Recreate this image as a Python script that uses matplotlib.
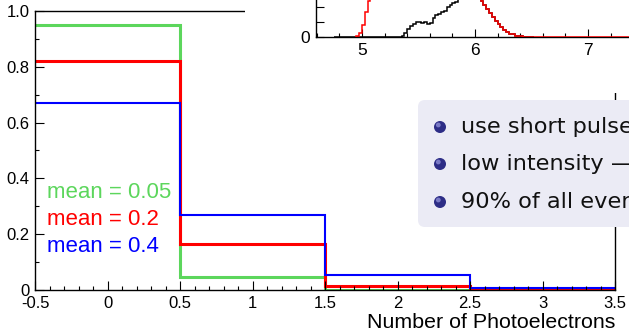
import numpy as np
import matplotlib
matplotlib.use("Agg")
import matplotlib.pyplot as plt
from matplotlib.patches import Rectangle, FancyBboxPatch, Circle
from matplotlib.ticker import MultipleLocator, FuncFormatter

plt.rcParams['font.family'] = ['Liberation Sans', 'DejaVu Sans']

# main plot: Poisson probabilities for 0..3 photoelectrons
edges = [-0.5, 0.5, 1.5, 2.5, 3.5]
p_005 = [0.951, 0.048, 0.0012, 0.00002]
p_02 = [0.819, 0.164, 0.016, 0.001]
p_04 = [0.670, 0.268, 0.054, 0.007]
labels = ["mean = 0.05", "mean = 0.2", "mean = 0.4"]
colors = ["#5cd65c", "#ff0000", "#0000ff"]

# inset histograms (bin width 0.025)
bw = 0.025
red_start = 4.95
red_counts = [7, 27, 80, 167, 240, 400,
              480, 520, 560, 590, 610, 620, 630, 640, 650, 655,
              660, 660, 665, 660, 655, 650, 640, 630, 620, 610,
              600, 590, 580, 565, 550, 535, 520, 500, 480, 460,
              440, 420, 400, 380, 350, 320, 290, 300,
              240, 213, 187, 160, 133, 107, 87, 67, 47, 33, 23, 17, 10, 7, 4, 3, 2, 1, 1,
              0, 0, 0, 0, 0, 0, 0, 0, 0, 0, 0, 0, 0, 0, 0, 0, 0, 0, 0, 0,
              0, 0, 0, 0, 0, 0, 0, 0, 0, 0, 0, 0, 0, 0, 0, 0, 0, 0, 0, 0]
black_start = 4.75
black_counts = [0, 0, 0, 0, 0, 0, 0, 0, 0, 0, 0, 0, 0, 0, 0, 0, 0, 0, 0, 0, 0, 0, 0, 0,
                7, 27, 53, 73, 87, 100, 100, 93, 100, 87, 93, 127, 147, 153,
                167, 173, 200, 213, 227, 233, 253, 280,
                300, 320, 330, 330, 320, 300,
                240, 213, 187, 160, 133, 107, 87, 67, 47, 33, 23, 17, 10, 7, 4, 3, 2, 1, 1]

bullets = ["use short pulses", "low intensity \u2014", "90% of all events"]

W, H = 629, 333
fig = plt.figure(figsize=(W / 100, H / 100), dpi=100)

def fx(x):
    return x / W

def fy(y):
    return 1 - y / H

# ---- main axes
ax = fig.add_axes([fx(35), fy(290), 580 / W, 279 / H], zorder=0)
for vals, c, lw in zip([p_005, p_02, p_04], colors, [2.2, 2.2, 1.5]):
    ax.stairs(vals, edges, color=c, lw=lw, baseline=None)
ax.set_xlim(-0.5, 3.5)
ax.set_ylim(0, 1.0)
ax.xaxis.set_major_locator(MultipleLocator(0.5))
ax.xaxis.set_minor_locator(MultipleLocator(0.1))
ax.yaxis.set_major_locator(MultipleLocator(0.2))
ax.yaxis.set_minor_locator(MultipleLocator(0.1))
ax.xaxis.set_major_formatter(FuncFormatter(lambda v, p: "%g" % v))
ax.yaxis.set_major_formatter(FuncFormatter(lambda v, p: "0" if abs(v) < 1e-9 else "%.1f" % v))
ax.tick_params(which='both', direction='in', top=False, right=False, labelsize=12, width=0.8, pad=4)
ax.tick_params(which='major', length=6.5)
ax.tick_params(which='minor', length=3.2)
for s in ax.spines.values():
    s.set_linewidth(1.0)

fig.text(fx(615), fy(323), "Number of Photoelectrons", ha='right', va='center', fontsize=15.4)
for i, (lab, c) in enumerate(zip(labels, colors)):
    fig.text(fx(47), fy(192 + 27.5 * i), lab, color=c, ha='left', va='center', fontsize=16)

# white area behind the inset
fig.add_artist(Rectangle((fx(245), fy(93)), 1, 93 / H, transform=fig.transFigure,
                         facecolor='white', edgecolor='none', zorder=1))

# ---- inset axes
ax2 = fig.add_axes([fx(316), fy(37), (7.6 - 4.593) * 113 / W, 90 / H], zorder=2)
ax2.patch.set_alpha(0)
red_edges = red_start + bw * np.arange(len(red_counts) + 1)
black_edges = black_start + bw * np.arange(len(black_counts) + 1)
ax2.stairs(black_counts, black_edges, color='black', lw=1.1, baseline=0, zorder=2)
ax2.stairs(red_counts, red_edges, color='red', lw=1.1, baseline=0, zorder=3)
ax2.set_xlim(4.593, 7.6)
ax2.set_ylim(0, 600)
ax2.xaxis.set_major_locator(MultipleLocator(1))
ax2.xaxis.set_minor_locator(MultipleLocator(0.2))
ax2.yaxis.set_major_locator(MultipleLocator(100))
ax2.yaxis.set_major_formatter(FuncFormatter(lambda v, p: "0" if v == 0 else ""))
ax2.tick_params(which='both', direction='in', top=False, right=False, labelsize=12.5, width=0.8, pad=4)
ax2.tick_params(which='major', length=5.5)
ax2.tick_params(which='minor', length=2.8)
ax2.spines['top'].set_visible(False)
ax2.spines['right'].set_visible(False)
for s in ax2.spines.values():
    s.set_linewidth(1.0)

# ---- callout box with bullets (pixel coordinates)
ov = fig.add_axes([0, 0, 1, 1], zorder=3)
ov.set_xlim(0, W)
ov.set_ylim(H, 0)
ov.axis('off')
ov.add_patch(FancyBboxPatch((425, 107), 260, 113, boxstyle="round,pad=7",
                            facecolor='#ebebf5', edgecolor='none'))
for i, t in enumerate(bullets):
    yc = [127, 164, 202][i]
    ov.add_patch(Circle((440, yc), 6, facecolor='#2d2d86', edgecolor='none'))
    ov.add_patch(Circle((438.3, yc - 2), 2.4, facecolor='#9a9ae0', edgecolor='none', alpha=0.7))
    ov.text(461, yc, t, ha='left', va='center', fontsize=16.2, color='#111111',
            family=['DejaVu Sans'])

fig.savefig("out.png", dpi=100)
